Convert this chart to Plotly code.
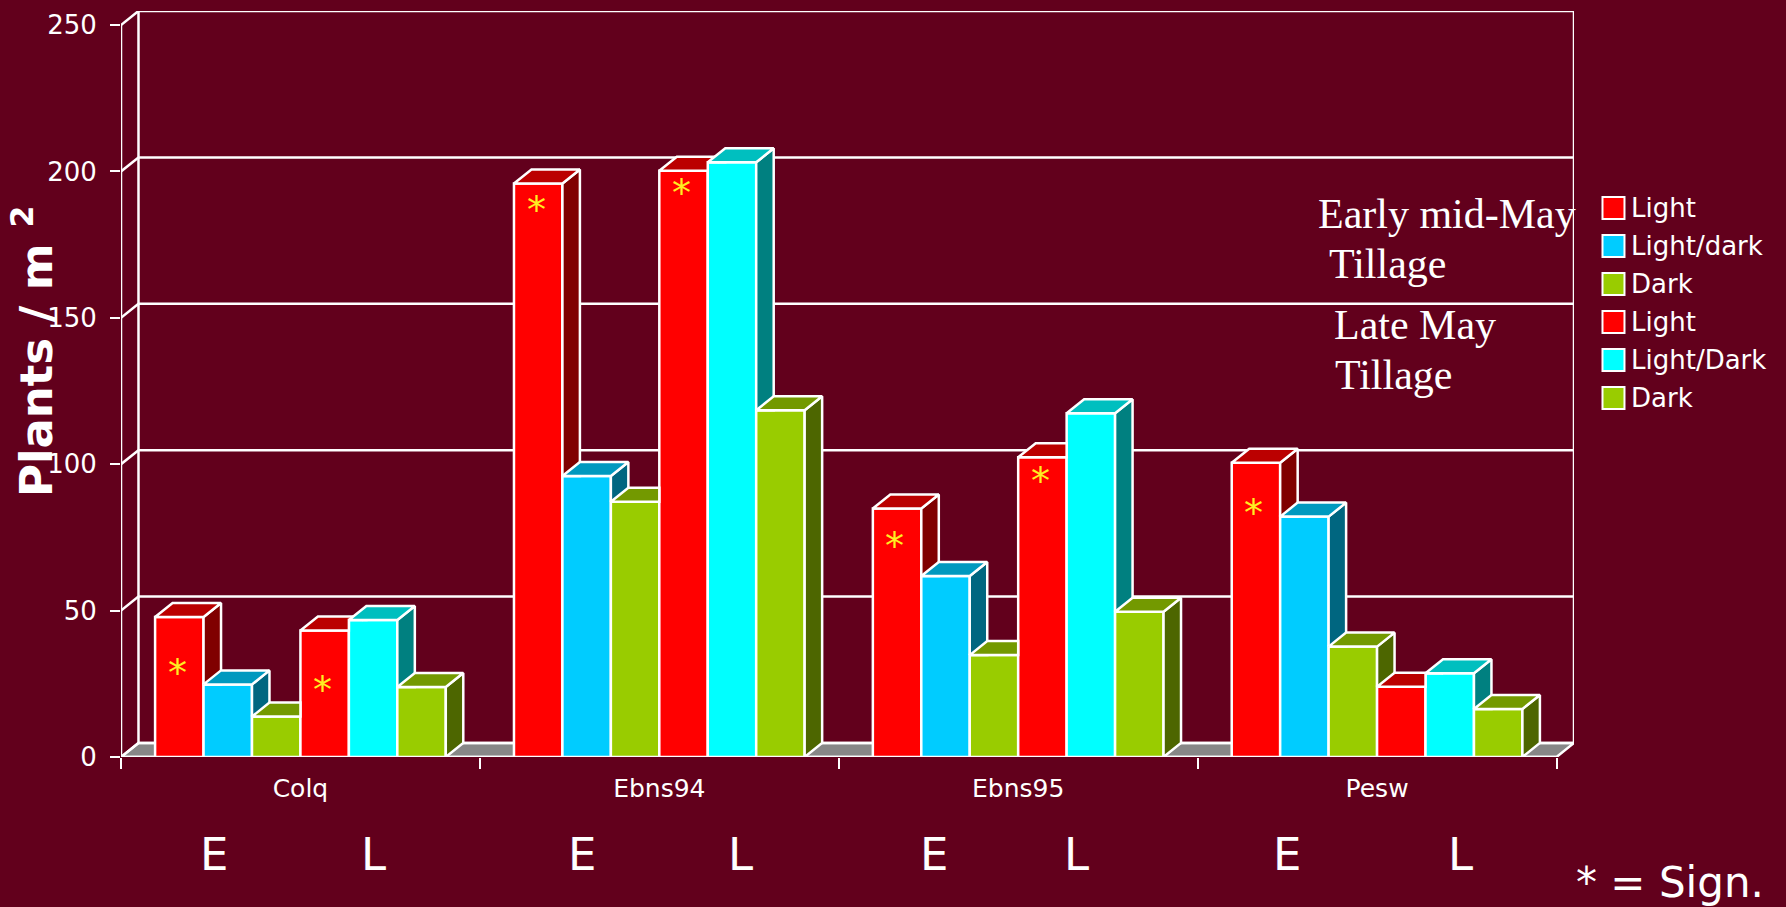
import plotly.graph_objects as go

# ---------------- data ----------------
categories = ["Colq", "Ebns94", "Ebns95", "Pesw"]
series_names = ["Light", "Light/dark", "Dark", "Light", "Light/Dark", "Dark"]
early_light = [47.8, 195.9, 84.9, 100.5]
early_lightdark = [24.8, 96.0, 61.8, 82.1]
early_dark = [13.8, 87.2, 34.8, 37.7]
late_light = [43.2, 200.2, 102.4, 24.0]
late_lightdark = [46.8, 203.1, 117.4, 28.6]
late_dark = [23.9, 118.4, 49.6, 16.4]
y_ticks = [0, 50, 100, 150, 200, 250]
# significance stars: series index, category index, height of star
sig_series = [0, 3, 0, 3, 0, 3, 0]
sig_category = [0, 0, 1, 1, 2, 2, 3]
sig_height = [29.7, 23.9, 187.8, 193.6, 73.1, 95.3, 84.4]
timing_labels = ["E", "L", "E", "L", "E", "L", "E", "L"]

values = [early_light, early_lightdark, early_dark, late_light, late_lightdark, late_dark]

# ---------------- styles ----------------
BG = "#62001C"
front_col = ["#FF0000", "#00CCFF", "#99CC00", "#FF0000", "#00FFFF", "#99CC00"]
top_col = ["#BB0000", "#0099BF", "#739900", "#BB0000", "#00BFBF", "#739900"]
side_col = ["#800000", "#006680", "#4D6600", "#800000", "#008080", "#4D6600"]
SANS = "DejaVu Sans"
SERIF = "Liberation Serif"

W_PX, H_PX = 1786, 907
PX_PER_CAT = 359.0
PX_PER_Y = 2.928
DEPTH_X_PX, DEPTH_Y_PX = 17.5, 14.0
DX = DEPTH_X_PX / PX_PER_CAT
DY = DEPTH_Y_PX / PX_PER_Y
YMAX = 250
BAR_W = 0.135
LW = 2.5

plot_left, plot_top = 121.0, 11.0
plot_w = len(categories) * PX_PER_CAT + DEPTH_X_PX
plot_h = (YMAX + DY) * PX_PER_Y
m_r = W_PX - plot_left - plot_w
m_b = H_PX - plot_top - plot_h


def fx(px):
    return (px - plot_left) / plot_w


def fy(py):
    return (plot_top + plot_h - py) / plot_h


n_ser = len(values)
n_cat = len(categories)
offsets = [(k - (n_ser - 1) / 2) * BAR_W for k in range(n_ser)]
x_lo, x_hi = -0.5, n_cat - 0.5

fig = go.Figure()

# front faces as real bars
for k in range(n_ser):
    fig.add_trace(go.Bar(
        x=[i + offsets[k] for i in range(n_cat)], y=values[k], width=BAR_W,
        marker=dict(color=front_col[k], line=dict(color="white", width=LW)),
        name=series_names[k], showlegend=False, hoverinfo="y"))


def side_poly(x1, v, v2):
    if v2 is None:
        return [(x1, 0), (x1 + DX, DY), (x1 + DX, v + DY), (x1, v)]
    if v2 >= v + DY:
        return None
    if v2 <= v:
        return [(x1, v2), (x1 + DX, v2), (x1 + DX, v + DY), (x1, v)]
    xa = x1 + DX * (v2 - v) / DY
    return [(xa, v2), (x1 + DX, v2), (x1 + DX, v + DY)]


def top_poly(x0, x1, v, v2):
    full = [(x0, v), (x0 + DX, v + DY), (x1 + DX, v + DY), (x1, v)]
    if v2 is None or v2 <= v:
        return full
    if v2 >= v + DY:
        return [(x0, v), (x0 + DX, v + DY), (x1, v + DY), (x1, v)]
    xa = x1 + DX * (v2 - v) / DY
    return [(x0, v), (x0 + DX, v + DY), (x1 + DX, v + DY), (xa, v2), (x1, v2), (x1, v)]


def add_polys(polys, color):
    xs, ys = [], []
    for p in polys:
        if not p:
            continue
        for (a, b) in p + [p[0]]:
            xs.append(a)
            ys.append(b)
        xs.append(None)
        ys.append(None)
    fig.add_trace(go.Scatter(x=xs, y=ys, mode="lines", fill="toself", fillcolor=color,
                             line=dict(color="white", width=LW), hoverinfo="skip",
                             showlegend=False, connectgaps=False))


for k in range(n_ser):
    sides, tops = [], []
    for i in range(n_cat):
        x0 = i + offsets[k] - BAR_W / 2
        x1 = x0 + BAR_W
        v = values[k][i]
        v2 = values[k + 1][i] if k + 1 < n_ser else None
        sides.append(side_poly(x1, v, v2))
        tops.append(top_poly(x0, x1, v, v2))
    add_polys(sides, side_col[k])
    add_polys(tops, top_col[k])

# ---------------- 3D frame (walls, floor, gridlines) ----------------
shapes = []
line_w = dict(color="white", width=LW)
floor_path = (f"M {x_lo},0 L {x_lo + DX},{DY} L {x_hi + DX},{DY} L {x_hi},0 Z")
shapes.append(dict(type="path", path=floor_path, xref="x", yref="y", fillcolor="#878787",
                   line=line_w, layer="below"))
for t in y_ticks:
    shapes.append(dict(type="line", xref="x", yref="y", x0=x_lo, y0=t, x1=x_lo + DX, y1=t + DY,
                       line=line_w, layer="below"))
    shapes.append(dict(type="line", xref="x", yref="y", x0=x_lo + DX, y0=t + DY, x1=x_hi + DX,
                       y1=t + DY, line=line_w, layer="below"))
shapes.append(dict(type="line", xref="x", yref="y", x0=x_lo + DX, y0=DY, x1=x_lo + DX,
                   y1=YMAX + DY, line=line_w, layer="below"))
shapes.append(dict(type="line", xref="x", yref="y", x0=x_hi + DX, y0=DY, x1=x_hi + DX,
                   y1=YMAX + DY, line=line_w, layer="below"))
shapes.append(dict(type="line", xref="x", yref="y", x0=x_lo, y0=0, x1=x_lo, y1=YMAX,
                   line=line_w, layer="below"))
shapes.append(dict(type="line", xref="x", yref="y", x0=x_lo, y0=0, x1=x_hi, y1=0,
                   line=line_w, layer="below"))

# ---------------- manual legend ----------------
annotations = []
leg_box_x0, leg_box_x1 = 1603, 1625
leg_row0, leg_step = 208, 38
for k in range(n_ser):
    cy = leg_row0 + k * leg_step
    shapes.append(dict(type="rect", xref="paper", yref="paper", x0=fx(leg_box_x0), x1=fx(leg_box_x1),
                       y0=fy(cy + 11), y1=fy(cy - 11), fillcolor=front_col[k],
                       line=dict(color="white", width=2)))
    annotations.append(dict(xref="paper", yref="paper", x=fx(1630), y=fy(cy), text=series_names[k],
                            showarrow=False, xanchor="left", yanchor="middle",
                            font=dict(family=SANS, size=26, color="white")))

# significance stars
for s, c, h in zip(sig_series, sig_category, sig_height):
    annotations.append(dict(xref="x", yref="y", x=c + offsets[s] - 0.006, y=h, text="*",
                            showarrow=False, xanchor="center", yanchor="middle", yshift=-3,
                            font=dict(family=SANS, size=38, color="#FFEE22")))

# serif annotations
for txt, px, py in [("Early mid-May", 1316, 214), ("Tillage", 1327, 264),
                    ("Late May", 1332, 325), ("Tillage", 1333, 375)]:
    annotations.append(dict(xref="paper", yref="paper", x=fx(px), y=fy(py), text=txt,
                            showarrow=False, xanchor="left", yanchor="middle",
                            font=dict(family=SERIF, size=42, color="white")))

# E / L labels below the axis
el_px = [214, 374, 582, 741, 934, 1077, 1287, 1461]
for txt, px in zip(timing_labels, el_px):
    annotations.append(dict(xref="paper", yref="paper", x=fx(px), y=fy(854), text=txt,
                            showarrow=False, xanchor="center", yanchor="middle",
                            font=dict(family=SANS, size=45, color="white")))

annotations.append(dict(xref="paper", yref="paper", x=fx(1575), y=fy(883), text="* = Sign.",
                        showarrow=False, xanchor="left", yanchor="middle",
                        font=dict(family=SANS, size=42, color="white")))

annotations.append(dict(xref="paper", yref="paper", x=fx(33), y=fy(352),
                        text="<b>Plants / m <sup>2</sup></b>", textangle=-90,
                        showarrow=False, xanchor="center", yanchor="middle",
                        font=dict(family=SANS, size=45, color="white")))

fig.update_layout(
    width=W_PX, height=H_PX,
    margin=dict(l=plot_left, r=m_r, t=plot_top, b=m_b, pad=0),
    paper_bgcolor=BG, plot_bgcolor=BG,
    barmode="overlay", showlegend=False,
    shapes=shapes, annotations=annotations,
    xaxis=dict(range=[x_lo, x_hi + DX], showgrid=False, zeroline=False, showline=False,
               tickvals=list(range(n_cat)), ticktext=categories, ticks="",
               ticklabelstandoff=14,
               tickfont=dict(family=SANS, size=25, color="white"),
               minor=dict(tickvals=[x_lo + i for i in range(n_cat + 1)], ticks="outside",
                          ticklen=11, tickwidth=2, tickcolor="white", showgrid=False),
               fixedrange=True),
    yaxis=dict(range=[0, YMAX + DY], showgrid=False, zeroline=False, showline=False,
               tickvals=y_ticks, ticks="outside", ticklen=10, tickwidth=2, tickcolor="white",
               ticklabelstandoff=8,
               tickfont=dict(family=SANS, size=26, color="white"), fixedrange=True),
)

fig.write_html("out.html")
